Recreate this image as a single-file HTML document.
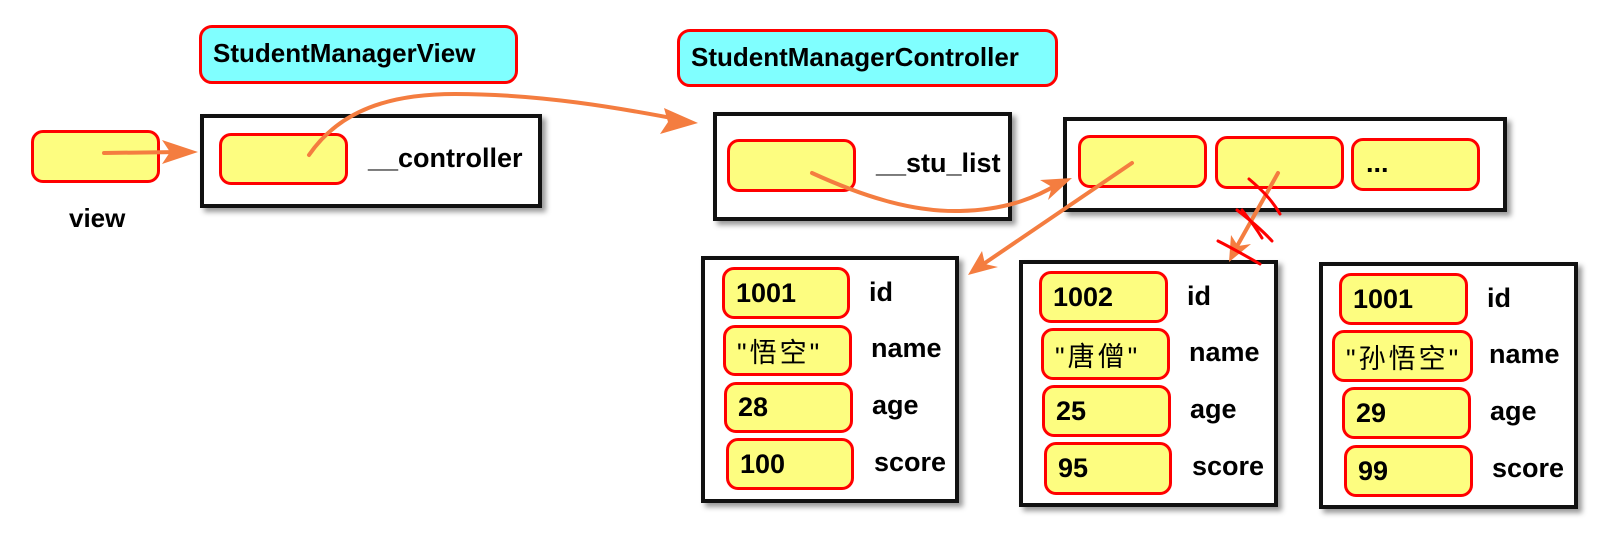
<!DOCTYPE html>
<html><head><meta charset="utf-8"><style>
body{margin:0;width:1616px;height:553px;background:#fff;position:relative;overflow:hidden;font-family:"Liberation Sans","Noto Sans CJK SC",sans-serif;font-weight:bold;color:#000}
.y{position:absolute;background:#fdfd80;border:3px solid #f00;border-radius:12px;box-sizing:border-box;font-size:27px;padding-left:11px;display:flex;align-items:center}
.c{position:absolute;background:#80ffff;border:3px solid #f00;border-radius:13px;box-sizing:border-box}
.f{position:absolute;border:4px solid #111;box-sizing:border-box;box-shadow:4px 4px 5px #999;background:#fff}
.t{position:absolute;font-size:27px;line-height:27px;white-space:nowrap}
.n{font-weight:normal;letter-spacing:3px}
</style></head><body>
<div class="c" style="left:199px;top:25px;width:319px;height:59px"></div>
<div class="t" style="left:213px;top:40px;font-size:26px">StudentManagerView</div>
<div class="c" style="left:677px;top:29px;width:381px;height:58px"></div>
<div class="t" style="left:691px;top:44px;font-size:26px">StudentManagerController</div>

<div class="y" style="left:31px;top:130px;width:129px;height:53px"></div>
<div class="t" style="left:69px;top:205px;font-size:26px">view</div>
<div class="f" style="left:200px;top:114px;width:342px;height:94px"></div>
<div class="y" style="left:219px;top:133px;width:129px;height:52px"></div>
<div class="t" style="left:368px;top:145px">__controller</div>

<div class="f" style="left:713px;top:112px;width:299px;height:109px"></div>
<div class="y" style="left:727px;top:139px;width:129px;height:53px"></div>
<div class="t" style="left:876px;top:150px">__stu_list</div>

<div class="f" style="left:1063px;top:117px;width:444px;height:95px"></div>
<div class="y" style="left:1078px;top:135px;width:129px;height:53px"></div>
<div class="y" style="left:1215px;top:136px;width:129px;height:53px"></div>
<div class="y" style="left:1351px;top:138px;width:129px;height:53px"></div>
<div class="t" style="left:1366px;top:150px">...</div>

<div class="f" style="left:701px;top:256px;width:258px;height:247px"></div>
<div class="y" style="left:722px;top:267px;width:128px;height:52px">1001</div>
<div class="y" style="left:723px;top:325px;width:129px;height:51px"><span class="n">"悟空"</span></div>
<div class="y" style="left:724px;top:382px;width:129px;height:51px">28</div>
<div class="y" style="left:726px;top:438px;width:128px;height:52px">100</div>
<div class="t" style="left:869px;top:279px">id</div>
<div class="t" style="left:871px;top:335px">name</div>
<div class="t" style="left:872px;top:392px">age</div>
<div class="t" style="left:874px;top:449px">score</div>

<div class="f" style="left:1019px;top:260px;width:259px;height:247px"></div>
<div class="y" style="left:1039px;top:271px;width:129px;height:52px">1002</div>
<div class="y" style="left:1041px;top:328px;width:129px;height:52px"><span class="n">"唐僧"</span></div>
<div class="y" style="left:1042px;top:385px;width:129px;height:52px">25</div>
<div class="y" style="left:1044px;top:442px;width:128px;height:53px">95</div>
<div class="t" style="left:1187px;top:283px">id</div>
<div class="t" style="left:1189px;top:339px">name</div>
<div class="t" style="left:1190px;top:396px">age</div>
<div class="t" style="left:1192px;top:453px">score</div>

<div class="f" style="left:1319px;top:262px;width:259px;height:247px"></div>
<div class="y" style="left:1339px;top:273px;width:129px;height:52px">1001</div>
<div class="y" style="left:1332px;top:330px;width:141px;height:52px"><span class="n">"孙悟空"</span></div>
<div class="y" style="left:1342px;top:387px;width:129px;height:52px">29</div>
<div class="y" style="left:1344px;top:445px;width:129px;height:52px">99</div>
<div class="t" style="left:1487px;top:285px">id</div>
<div class="t" style="left:1489px;top:341px">name</div>
<div class="t" style="left:1490px;top:398px">age</div>
<div class="t" style="left:1492px;top:455px">score</div>

<svg width="1616" height="553" style="position:absolute;left:0;top:0" fill="none">
<g stroke="#f47d40" stroke-width="4" stroke-linecap="round">
<path d="M104 153 L180 152"/>
<path d="M309 155 C340 110 390 94 455 94 C540 94 620 108 682 120"/>
<path d="M812 173 C860 195 910 212 960 211 C1010 210 1040 195 1058 184"/>
<path d="M1132 163 L982 265"/>
<path d="M1278 173 L1236 248"/>
</g>
<g fill="#f47d40">
<path d="M198 152 L162 140 L170 152 L162 164 Z"/>
<path d="M698 123 L664 108 L668 122 L660 134 Z"/>
<path d="M1072 178 L1040 180 L1052 187 L1048 200 Z"/>
<path d="M968 275 L982 251 L985 264 L998 267 Z"/>
<path d="M1229 262 L1231 235 L1238 246 L1251 244 Z"/>
</g>
<g stroke="#f00" stroke-width="3" stroke-linecap="round">
<path d="M1249 179 C1262 190 1272 200 1280 214"/>
<path d="M1237 210 C1250 220 1262 230 1272 241"/>
<path d="M1242 210 C1250 220 1256 228 1262 238"/>
<path d="M1218 241 C1232 248 1246 256 1260 264"/>
</g>
</svg>
</body></html>
